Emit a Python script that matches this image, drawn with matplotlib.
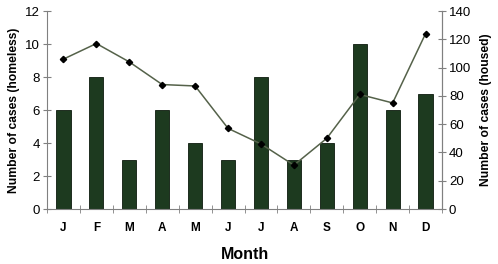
import matplotlib
matplotlib.use("Agg")
import matplotlib.pyplot as plt
import numpy as np

months = ["J", "F", "M", "A", "M", "J", "J", "A", "S", "O", "N", "D"]
homeless = [6, 8, 3, 6, 4, 3, 8, 3, 4, 10, 6, 7]
housed = [106, 117, 104, 88, 87, 57, 46, 31, 50, 81, 75, 124]

plt.rcParams['font.family'] = ['Liberation Sans', 'DejaVu Sans']

fig = plt.figure(figsize=(4.98, 2.64), dpi=100)
ax = fig.add_axes([0.0944, 0.2083, 0.7932, 0.75])
x = np.arange(len(months))
ax.bar(x, homeless, width=0.43, color="#1d3a1f", edgecolor="#0d1a0d", linewidth=0.6)
ax.set_xlim(-0.5, len(months) - 0.5)
ax.set_ylim(0, 12)
ax.set_yticks(range(0, 13, 2))
ax.set_xticks(x)
ax.set_xticklabels(months, fontweight="bold", fontsize=8.5)
ax.set_xticks(np.arange(-0.5, len(months), 1), minor=True)
ax.tick_params(axis="x", which="major", length=0, pad=9)
ax.tick_params(axis="x", which="minor", direction="inout", length=6, color="#808080")
ax.tick_params(axis="y", direction="inout", length=6, color="#808080", labelsize=9.5, pad=2)
for s in ["top"]:
    ax.spines[s].set_visible(False)
for s in ["left", "bottom", "right"]:
    ax.spines[s].set_color("#808080")
ax.set_ylabel("Number of cases (homeless)", fontweight="bold", fontsize=8.7, labelpad=4)
ax.set_xlabel("Month", fontweight="bold", fontsize=11.5, labelpad=10)

ax2 = ax.twinx()
ax2.plot(x, housed, color="#55624a", linewidth=1.1, marker="D", markersize=3.2,
         markerfacecolor="black", markeredgecolor="black")
ax2.set_ylim(0, 140)
ax2.set_yticks(range(0, 141, 20))
ax2.tick_params(axis="y", direction="inout", length=6, color="#808080", labelsize=9.5, pad=2)
ax2.spines["top"].set_visible(False)
ax2.spines["right"].set_color("#808080")
ax2.spines["left"].set_visible(False)
ax2.spines["bottom"].set_visible(False)
ax2.set_ylabel("Number of cases (housed)", fontweight="bold", fontsize=8.7, labelpad=6)

fig.savefig("out.png", dpi=100)
